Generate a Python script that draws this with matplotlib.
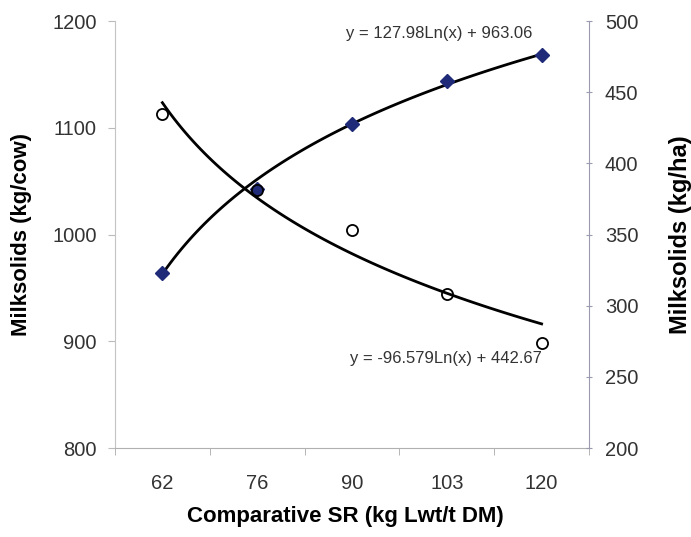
import numpy as np
import matplotlib
matplotlib.use("Agg")
import matplotlib.pyplot as plt

plt.rcParams['font.family'] = ['Liberation Sans', 'DejaVu Sans']

# comparative stocking rate categories
sr_labels = ["62", "76", "90", "103", "120"]
# milksolids per cow (left axis) and per ha (right axis)
ms_cow = [964, 1043, 1104, 1144, 1168]
ms_ha = [435, 381, 353, 308, 274]
# fitted log trendlines, as printed on the chart
cow_a, cow_b = 127.98, 963.06
ha_a, ha_b = -96.579, 442.67

x = np.arange(1, len(sr_labels) + 1)
xs = np.linspace(1, len(sr_labels), 100)

fig = plt.figure(figsize=(6.91, 5.37), dpi=100)
ax = fig.add_axes([0.1664, 0.1657, 0.686, 0.795])
ax2 = ax.twinx()

ax.plot(xs, cow_a * np.log(xs) + cow_b, color="black", lw=2, zorder=2)
ax.plot(x, ms_cow, "D", color="#1f2a78", ms=7, zorder=3)
ax2.plot(xs, ha_a * np.log(xs) + ha_b, color="black", lw=2, zorder=2)
ax2.plot(x, ms_ha, "o", mfc="none", mec="black", mew=1.3, ms=8, zorder=3)

ax.set_xlim(0.5, len(sr_labels) + 0.5)
ax.set_ylim(800, 1200)
ax2.set_ylim(200, 500)
ax.set_yticks([800, 900, 1000, 1100, 1200])
ax2.set_yticks([200, 250, 300, 350, 400, 450, 500])

# category labels centred, ticks on boundaries
ax.set_xticks(x)
ax.set_xticklabels(sr_labels)
ax.set_xticks(np.arange(0.5, len(sr_labels) + 1), minor=True)
ax.tick_params(axis="x", which="major", length=0, pad=19, labelsize=14.5, labelcolor="#333333")
ax.tick_params(axis="x", which="minor", length=5, color="#aaaaaa", direction="out")
ax.tick_params(axis="y", length=5, color="#bbbbbb", labelsize=14.5, labelcolor="#333333", pad=8)
ax2.tick_params(axis="y", length=5, color="#9a9ab0", direction="inout", labelsize=14.5,
                labelcolor="#333333", pad=9)

for a in (ax, ax2):
    a.spines["top"].set_visible(False)
ax.spines["right"].set_visible(False)
ax.spines["left"].set_color("#c4c4c4")
ax.spines["bottom"].set_color("#b0b0b0")
ax2.spines["left"].set_visible(False)
ax2.spines["bottom"].set_visible(False)
ax2.spines["right"].set_color("#9a9ab0")

ax.set_xlabel("Comparative SR (kg Lwt/t DM)", fontsize=16, fontweight="bold")
ax.set_ylabel("Milksolids (kg/cow)", fontsize=16, fontweight="bold")
ax2.set_ylabel("Milksolids (kg/ha)", fontsize=17, fontweight="bold")
ax.xaxis.set_label_coords(0.487, -0.135)
ax.yaxis.set_label_coords(-0.175, 0.5)
ax2.yaxis.set_label_coords(1.168, 0.5)

ax.text(3.92, 1188, "y = 127.98Ln(x) + 963.06", fontsize=12, color="#333333", ha="center", va="center")
ax2.text(3.99, 263, "y = -96.579Ln(x) + 442.67", fontsize=12, color="#333333", ha="center", va="center")

fig.savefig("out.png", dpi=100)
